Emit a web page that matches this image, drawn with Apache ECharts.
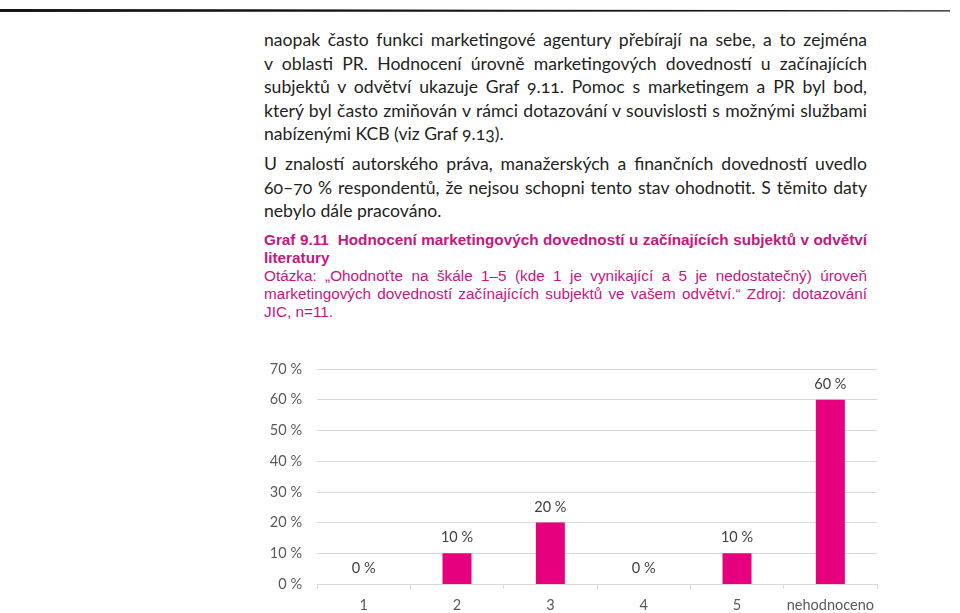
<!DOCTYPE html>
<html>
<head>
<meta charset="utf-8">
<script src="https://cdn.jsdelivr.net/npm/echarts@6/dist/echarts.min.js"></script>
<style>
  html, body { margin: 0; padding: 0; background: #fff; width: 960px; height: 613px; overflow: hidden; position: relative; }
  .rule { position: absolute; left: 0; top: 9px; width: 950px; height: 3px; background: #151515;
          clip-path: polygon(0 0, 100% 40%, 100% 80%, 0 100%); }
  .ln { position: absolute; left: 264px; width: 603px; white-space: nowrap; }
  .j { text-align: justify; text-align-last: justify; white-space: normal; }
  .body { font-family: Lato, "Open Sans", sans-serif; font-size: 17.6px; color: #231f20; height: 24px; line-height: 24px;
          font-variant-numeric: oldstyle-nums; font-feature-settings: "onum" 1; }
  .cap { font-family: "Liberation Sans", Arial, sans-serif; font-size: 15.3px; color: #c8167d; height: 18px; line-height: 18px; }
  .capb { font-weight: bold; }
  #chart { position: absolute; left: 0; top: 340px; width: 960px; height: 273px; }
</style>
</head>
<body>
<div class="rule"></div>
<div id="text"></div>
<div id="chart"></div>
<script>
// ---- data ----
var categories = ['1', '2', '3', '4', '5', 'nehodnoceno'];
var values = [0, 10, 20, 0, 10, 60];
var yTicks = { min: 0, max: 70, interval: 10 };

var bodyLines = [
  ['naopak často funkci marketingové agentury přebírají na sebe, a to zejména', 40, true],
  ['v oblasti PR. Hodnocení úrovně marketingových dovedností u začínajících', 63.5, true],
  ['subjektů v odvětví ukazuje Graf 9.11. Pomoc s marketingem a PR byl bod,', 87, true],
  ['který byl často zmiňován v rámci dotazování v souvislosti s možnými službami', 110.5, true],
  ['nabízenými KCB (viz Graf 9.13).', 134, false],
  ['U znalostí autorského práva, manažerských a finančních dovedností uvedlo', 164, true],
  ['60–70 % respondentů, že nejsou schopni tento stav ohodnotit. S těmito daty', 187.5, true],
  ['nebylo dále pracováno.', 211, false]
];
var capLines = [
  ['Graf 9.11\u00a0 Hodnocení marketingových dovedností u začínajících subjektů v odvětví', 240, true, true],
  ['literatury', 258, false, true],
  ['Otázka: „Ohodnoťte na škále 1–5 (kde 1 je vynikající a 5 je nedostatečný) úroveň', 276, true, false],
  ['marketingových dovedností začínajících subjektů ve vašem odvětví.“ Zdroj: dotazování', 294, true, false],
  ['JIC, n=11.', 311.5, false, false]
];

var host = document.getElementById('text');
bodyLines.forEach(function (l) {
  var d = document.createElement('div');
  d.className = 'ln body' + (l[2] ? ' j' : '');
  d.style.top = (l[1] - 12) + 'px';
  d.textContent = l[0];
  host.appendChild(d);
});
capLines.forEach(function (l) {
  var d = document.createElement('div');
  d.className = 'ln cap' + (l[2] ? ' j' : '') + (l[3] ? ' capb' : '');
  d.style.top = (l[1] - 9) + 'px';
  d.textContent = l[0];
  host.appendChild(d);
});

var chart = echarts.init(document.getElementById('chart'), null, { renderer: 'canvas' });
chart.setOption({
  animation: false,
  grid: { left: 317, right: 83, top: 29, bottom: 27, containLabel: false },
  xAxis: {
    type: 'category',
    data: categories,
    axisLine: { lineStyle: { color: '#d9d9d9', width: 1 } },
    axisTick: { show: true, length: 5, lineStyle: { color: '#d9d9d9' } },
    axisLabel: { interval: 0, color: '#595959', fontFamily: 'Lato, "Open Sans", sans-serif', fontSize: 14.5, margin: 14 }
  },
  yAxis: {
    type: 'value',
    min: yTicks.min, max: yTicks.max, interval: yTicks.interval,
    axisLine: { show: false },
    axisTick: { show: false },
    splitLine: { lineStyle: { color: '#d9d9d9', width: 1 } },
    axisLabel: { color: '#595959', fontFamily: 'Lato, "Open Sans", sans-serif', fontSize: 14.5, margin: 15,
                 formatter: '{value} %' }
  },
  series: [{
    type: 'bar',
    data: values,
    barWidth: 29,
    itemStyle: { color: '#e6007e' },
    label: { show: true, position: 'top', distance: 8, formatter: '{c} %',
             color: '#404040', fontFamily: 'Lato, "Open Sans", sans-serif', fontSize: 14.5 }
  }]
});
</script>
</body>
</html>
